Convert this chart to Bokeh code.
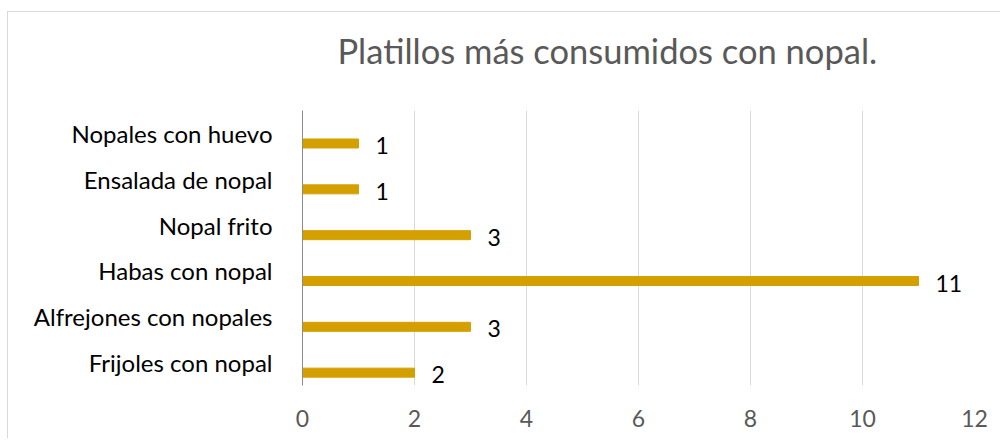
from bokeh.plotting import figure
from bokeh.models import ColumnDataSource, Range1d, FactorRange, FixedTicker, LabelSet, Title
from bokeh.core.properties import value
from bokeh.transform import dodge
from bokeh.embed import file_html
from bokeh.resources import INLINE

categories = ["Frijoles con nopal", "Alfrejones con nopales", "Habas con nopal",
              "Nopal frito", "Ensalada de nopal", "Nopales con huevo"]
values = [2, 3, 11, 3, 1, 1]
x_ticks = [0, 2, 4, 6, 8, 10, 12]
title_text = "Platillos más consumidos con nopal."

FONT = "Lato"

source = ColumnDataSource(data=dict(cat=categories, val=values,
                                    lab=[str(v) for v in values]))

p = figure(width=993, height=427, y_range=FactorRange(*categories),
           x_range=Range1d(0, 12), output_backend="svg", toolbar_location=None,
           min_border_left=294, min_border_right=27, min_border_top=98,
           min_border_bottom=54)
p.styles = {"border-left": "1px solid #d9d9d9", "border-top": "1px solid #d9d9d9",
            "margin-top": "11px", "margin-left": "7px"}

p.hbar(y=dodge("cat", -0.22, range=p.y_range), right="val", left=0, height=0.197,
       source=source, color="#d4a000")

labels = LabelSet(x="val", y=dodge("cat", -0.22, range=p.y_range), text="lab",
                  source=source, x_offset=17, y_offset=-2, text_font=value(FONT),
                  text_font_size="23px", text_color="#000000",
                  text_baseline="middle", text_align="left")
p.add_layout(labels)

# spacer panel between the plotting area and the title
spacer = Title(text=" ", text_font_size="1px", standoff=37, align="left")
p.add_layout(spacer, "above")
title = Title(text=title_text, align="left", offset=35, standoff=0,
              vertical_align="bottom", text_font=FONT, text_font_size="34.5px",
              text_font_style="normal", text_color="#595959")
p.add_layout(title, "above")

p.outline_line_color = None
p.ygrid.grid_line_color = None
p.xgrid.grid_line_color = "#d9d9d9"
p.xgrid.grid_line_width = 1
p.xaxis.ticker = FixedTicker(ticks=x_ticks)
p.xaxis.axis_line_color = None
p.xaxis.major_tick_line_color = None
p.xaxis.minor_tick_line_color = None
p.xaxis.major_label_standoff = 18
p.xaxis.major_label_text_font = FONT
p.xaxis.major_label_text_font_size = "23px"
p.xaxis.major_label_text_color = "#595959"

p.yaxis.axis_line_color = "#8c8c8c"
p.yaxis.major_tick_line_color = None
p.yaxis.minor_tick_line_color = None
p.yaxis.major_label_standoff = 24
p.yaxis.major_label_text_font = FONT
p.yaxis.major_label_text_font_size = "24px"
p.yaxis.major_label_text_color = "#000000"
p.y_range.range_padding = 0
p.y_range.factor_padding = 0

open("out.html", "w").write(file_html(p, INLINE))
